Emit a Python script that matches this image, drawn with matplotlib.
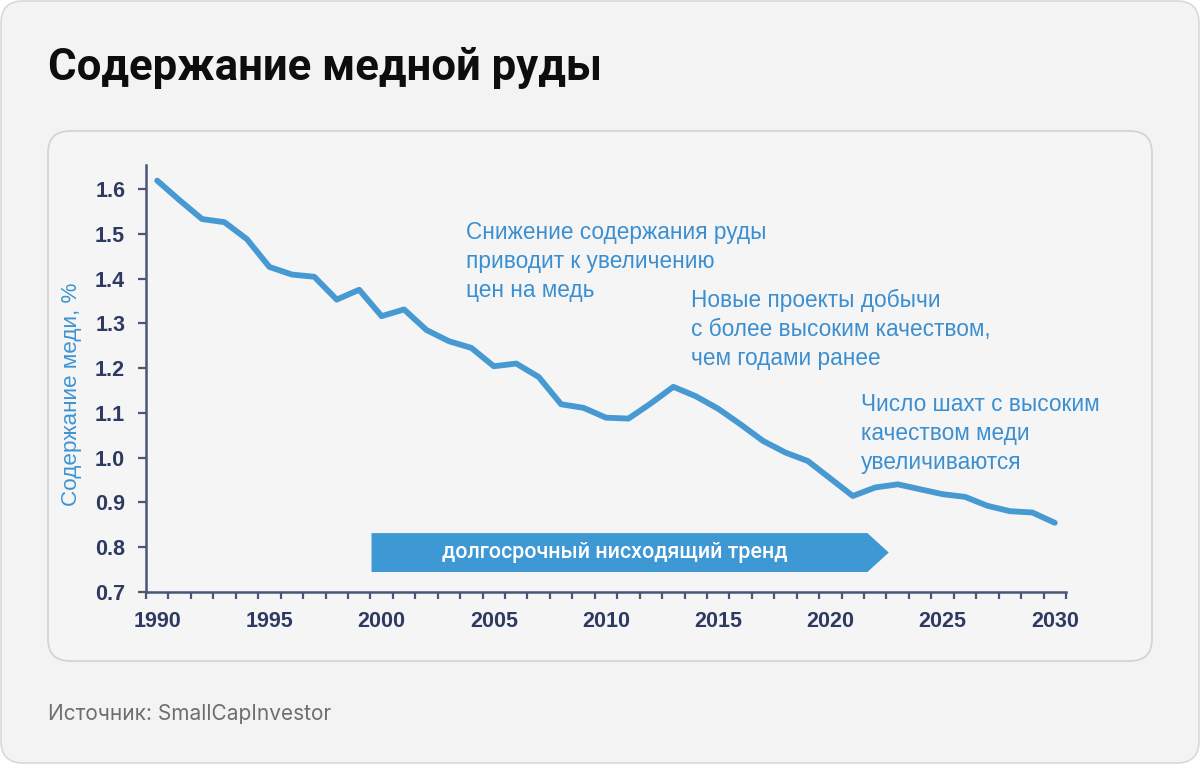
import matplotlib
matplotlib.use('Agg')
import numpy as np
import matplotlib.pyplot as plt
from matplotlib.patches import FancyBboxPatch, Polygon
from matplotlib.transforms import IdentityTransform
from matplotlib.ticker import FixedLocator

# ---- data ----
years = list(range(1990, 2031))
grade = [1.619, 1.575, 1.533, 1.526, 1.488, 1.426, 1.409, 1.404, 1.353, 1.375,
         1.316, 1.331, 1.285, 1.260, 1.245, 1.204, 1.210, 1.180, 1.119, 1.111,
         1.089, 1.087, 1.121, 1.158, 1.137, 1.109, 1.074, 1.037, 1.011, 0.992,
         0.953, 0.914, 0.933, 0.940, 0.929, 0.918, 0.912, 0.892, 0.880, 0.877, 0.854]
x_ticks = [1990, 1995, 2000, 2005, 2010, 2015, 2020, 2025, 2030]
y_ticks = [0.7, 0.8, 0.9, 1.0, 1.1, 1.2, 1.3, 1.4, 1.5, 1.6]

title = "Содержание медной руды"
y_label = "Содержание меди, %"
source = "Источник: SmallCapInvestor"
trend_label = "долгосрочный нисходящий тренд"
note1 = "Снижение содержания руды\nприводит к увеличению\nцен на медь"
note2 = "Новые проекты добычи\nс более высоким качеством,\nчем годами ранее"
note3 = "Число шахт с высоким\nкачеством меди\nувеличиваются"

# trend banner extent (years / value)
trend_x0, trend_x1, trend_tip = 1999.55, 2021.65, 2022.6
trend_y0, trend_y1 = 0.744, 0.831

W, H = 1200, 764
fig = plt.figure(figsize=(W / 100, H / 100), dpi=100)
fig.patch.set_facecolor('white')

# outer card
outer = FancyBboxPatch((1, 1), W - 2, H - 2, boxstyle="round,pad=0,rounding_size=22",
                       transform=IdentityTransform(), facecolor='#f3f3f3',
                       edgecolor='#d9d9d9', linewidth=1.2, zorder=-2)
fig.patches.append(outer)
# inner panel
inner = FancyBboxPatch((48, H - 661), 1104, 530, boxstyle="round,pad=0,rounding_size=22",
                       transform=IdentityTransform(), facecolor='#f5f5f5',
                       edgecolor='#d2d2d2', linewidth=1.2, zorder=-1)
fig.patches.append(inner)

fig.text(48 / W, 1 - 68 / H, title, fontsize=31.5, fontweight='bold', family='Roboto',
         color='#0d0d0d', va='center', ha='left')
fig.text(48 / W, 1 - 714 / H, source, fontsize=15, family='Inter', color='#6e6e6e',
         va='center', ha='left')

ax = fig.add_axes([146 / W, (H - 591.7) / H, (1066 - 146) / W, (591.7 - 165.4) / H])
ax.set_facecolor('none')
ax.set_xlim(1989.5, 2030.5)
ax.set_ylim(0.7, 1.653)

navy = '#2e3a62'
blue = '#3d94d1'
ax.plot(years, grade, color=blue, lw=4.2, solid_joinstyle='round', solid_capstyle='round',
        alpha=0.95, zorder=3)

# banner arrow
poly = Polygon([(trend_x0, trend_y0), (trend_x1, trend_y0), (trend_tip, (trend_y0 + trend_y1) / 2),
                (trend_x1, trend_y1), (trend_x0, trend_y1)], closed=True,
               facecolor='#3e98d3', edgecolor='none', zorder=2)
ax.add_patch(poly)
ax.text((trend_x0 + trend_x1) / 2 - 0.2, (trend_y0 + trend_y1) / 2, trend_label, color='white',
        fontsize=15.5, family='Roboto', fontweight='medium', ha='center', va='center',
        zorder=4)

for s in ['top', 'right']:
    ax.spines[s].set_visible(False)
for s in ['left', 'bottom']:
    ax.spines[s].set_color('#4b5577')
    ax.spines[s].set_linewidth(1.8)

ax.set_yticks(y_ticks)
ax.set_yticklabels([f"{v:.1f}" for v in y_ticks])
ax.set_xticks(x_ticks)
ax.set_xticklabels([str(v) for v in x_ticks])
ax.xaxis.set_minor_locator(FixedLocator(np.arange(1989.5, 2031, 1.0)))
ax.tick_params(axis='x', which='major', length=0, pad=14)
ax.tick_params(axis='x', which='minor', length=5, width=1.6, color='#4b5577', direction='out')
ax.tick_params(axis='y', which='major', length=6, width=1.6, color='#4b5577', pad=9)
for lab in ax.get_xticklabels() + ax.get_yticklabels():
    lab.set_family('Liberation Sans')
    lab.set_fontweight('bold')
    lab.set_fontsize(15.5)
    lab.set_color(navy)

fig.text(72 / W, 1 - 394 / H, y_label, rotation=90, fontsize=16.2, family='Liberation Sans',
         color='#3d94d1', va='center', ha='center')

ann_kw = dict(fontsize=16.3, family='Liberation Sans', color='#3b8fd0', va='top', ha='left',
              linespacing=1.32)
fig.text(466 / W, 1 - 221 / H, note1, **ann_kw)
fig.text(691 / W, 1 - 289 / H, note2, **ann_kw)
fig.text(861 / W, 1 - 393 / H, note3, **ann_kw)

fig.savefig('out.png', dpi=100, facecolor=fig.get_facecolor())
